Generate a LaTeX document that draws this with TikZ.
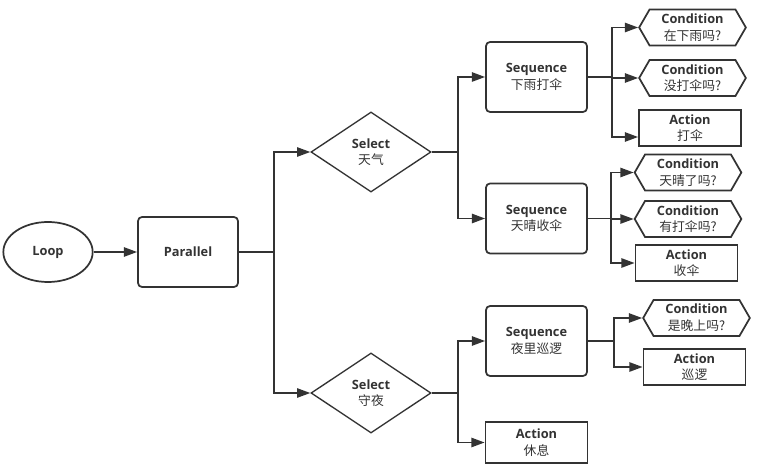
\documentclass[tikz,border=0pt]{standalone}
\usepackage{fontspec}
\setmainfont{Open Sans}
\newfontfamily\cjk{Noto Sans CJK SC}
\usetikzlibrary{arrows.meta}
\usetikzlibrary{shapes.geometric}
\usetikzlibrary{shapes.symbols}
\definecolor{ink}{HTML}{333333}

\tikzset{
    every node/.style={font=\fontsize{9.6}{12.5}\selectfont, text=ink, align=center},
    conn/.style={draw=ink, line width=1.3pt},
    arr/.style={conn, -{Triangle[length=10pt,width=7pt]}},
    loopnode/.style={ellipse, draw=ink, line width=1.3pt, minimum width=67pt, minimum height=45pt},
    parbox/.style={draw=ink, line width=1.3pt, rounded corners=3pt, minimum width=75pt, minimum height=52.5pt},
    selnode/.style={diamond, draw=ink, line width=1pt, minimum width=90pt, minimum height=60pt, inner sep=0pt},
    seqbox/.style={parbox, minimum width=75.75pt},
    actbox/.style={draw=ink, line width=1.3pt, minimum width=76.5pt, minimum height=27pt, inner sep=1pt},
    condnode/.style={signal, signal to=east and west, signal pointer angle=120, draw=ink,
        line width=1.3pt, minimum width=80pt, minimum height=27pt, inner sep=1pt},
}
\newcommand{\lbl}[2]{\textbf{#1}\\{\cjk #2}}

\begin{document}
\begin{tikzpicture}[x=0.75pt, y=-0.75pt]
    \useasboundingbox (0,0) rectangle (757,470);

    \node[loopnode] (loop) at (48,252) {\textbf{Loop}};
    \node[parbox] (par) at (188,252) {\textbf{Parallel}};

    \node[selnode] (weather) at (371,152) {\lbl{Select}{天气}};
    \node[selnode] (night) at (371,393) {\lbl{Select}{守夜}};

    \node[seqbox] (rain) at (536.5,77) {\lbl{Sequence}{下雨打伞}};
    \node[seqbox] (sunny) at (536.5,218.5) {\lbl{Sequence}{天晴收伞}};
    \node[seqbox] (patrol) at (536.5,341) {\lbl{Sequence}{夜里巡逻}};
    \node[actbox, minimum height=31pt] (rest) at (536.5,442.5) {\lbl{Action}{休息}};

    \node[condnode] (israin) at (692.5,27.5) {\lbl{Condition}{在下雨吗?}};
    \node[condnode] (noumb) at (692.5,78) {\lbl{Condition}{没打伞吗?}};
    \node[actbox] (openumb) at (690,128) {\lbl{Action}{打伞}};

    \node[condnode] (issunny) at (688,172.5) {\lbl{Condition}{天晴了吗?}};
    \node[condnode] (hasumb) at (688,219) {\lbl{Condition}{有打伞吗?}};
    \node[actbox] (closeumb) at (686.5,263) {\lbl{Action}{收伞}};

    \node[condnode] (isnight) at (696.5,318) {\lbl{Condition}{是晚上吗?}};
    \node[actbox] (walk) at (694.5,367) {\lbl{Action}{巡逻}};

    % bus points
    \coordinate (b0) at (274,252);
    \coordinate (b1) at (458,152);
    \coordinate (b2) at (458,393);
    \coordinate (b3) at (612,77);
    \coordinate (b4) at (611,218.5);
    \coordinate (b5) at (614,341);

    \draw[arr] (loop) -- (par);

    \draw[conn] (par.east) -- (b0);
    \draw[arr] (b0) |- (weather.west);
    \draw[arr] (b0) |- (night.west);

    \draw[conn] (weather.east) -- (b1);
    \draw[arr] (b1) |- (rain.west);
    \draw[arr] (b1) |- (sunny.west);

    \draw[conn] (night.east) -- (b2);
    \draw[arr] (b2) |- (patrol.west);
    \draw[arr] (b2) |- (rest.west);

    \draw[conn] (rain.east) -- (b3);
    \draw[arr] (b3) |- (israin.west);
    \draw[arr] (b3) |- (noumb.west);
    \draw[arr] (b3) |- ([yshift=-6.75pt]openumb.west);

    \draw[conn] (sunny.east) -- (b4);
    \draw[arr] (b4) |- (issunny.west);
    \draw[arr] (b4) |- (hasumb.west);
    \draw[arr] (b4) |- (closeumb.west);

    \draw[conn] (patrol.east) -- (b5);
    \draw[arr] (b5) |- (isnight.west);
    \draw[arr] (b5) |- (walk.west);
\end{tikzpicture}
\end{document}
